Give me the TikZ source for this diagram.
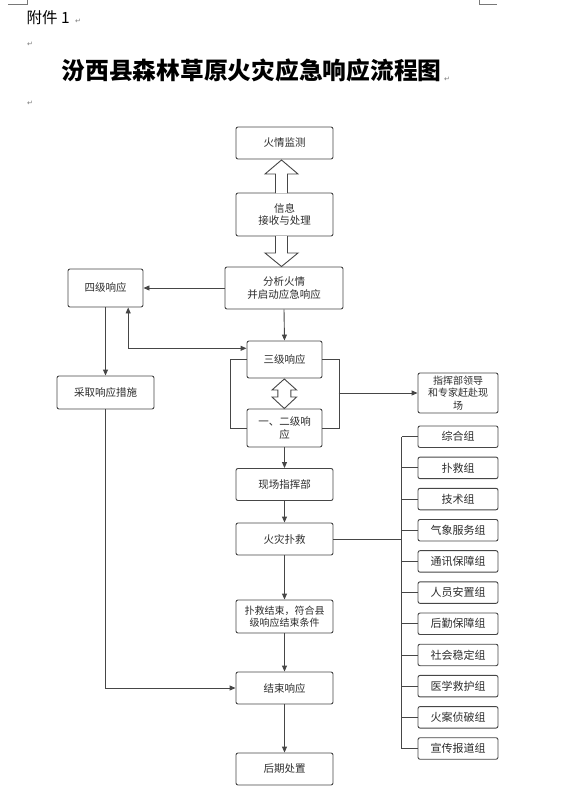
\documentclass[tikz,border=0pt]{standalone}
\usepackage{fontspec}
\setmainfont{Noto Sans CJK SC}
\newfontfamily\cjk{Noto Sans CJK SC}
\newfontfamily\dvs{DejaVu Sans}
\usetikzlibrary{arrows.meta}
\definecolor{lc}{RGB}{70,70,70}
\definecolor{tc}{RGB}{45,45,45}
\definecolor{pm}{RGB}{120,120,120}
\tikzset{
  box/.style={draw=lc, line width=0.9pt, rounded corners=2pt, fill=white, text=tc, align=center, inner sep=1pt, font=\cjk\fontsize{10.5}{12.5}\selectfont},
  grp/.style={box, minimum width=80pt, minimum height=21.5pt, font=\cjk\fontsize{11}{13}\selectfont},
  conn/.style={draw=lc, line width=0.9pt},
  arr/.style={conn, -{Triangle[length=6pt,width=5pt]}},
  hollow/.style={draw=lc, line width=0.9pt, fill=white, line join=miter},
  pmark/.style={text=pm, font=\dvs\fontsize{7}{8}\selectfont, inner sep=0pt}
}
\begin{document}
\begin{tikzpicture}[x=1pt,y=-1pt]
\useasboundingbox (0,0) rectangle (577,792);
% page corner marks
\draw[pm, line width=0.5pt] (8,4) -- (27,4) -- (27,0);
\draw[pm, line width=0.5pt] (479,0) -- (479,4) -- (497,4);
% header
\node[anchor=west, inner sep=0pt, font=\cjk\fontsize{15.5}{17}\selectfont] (att) at (26.5,17.5) {附件 1};
\node[pmark] (pm1) at (78,21.5) {↵};
\node[pmark] (pm2) at (30,44) {↵};
\node[inner sep=0pt, font=\cjk\bfseries\fontsize{23.75}{26}\selectfont] (title) at (251.7,70) {汾西县森林草原火灾应急响应流程图};
\node[pmark] (pm3) at (447,79) {↵};
\node[pmark] (pm4) at (30,103) {↵};

% main boxes
\node[box, minimum width=97pt, minimum height=32pt] (jc) at (284.5,143) {火情监测};
\node[box, minimum width=97pt, minimum height=43pt] (xx) at (284.5,214.5) {信息\\接收与处理};
\node[box, minimum width=118pt, minimum height=42pt] (fx) at (284,288) {分析火情\\并启动应急响应};
\node[box, minimum width=75pt, minimum height=38pt] (sj) at (105.5,288) {四级响应};
\node[box, minimum width=75pt, minimum height=37pt] (sanj) at (284.5,359.5) {三级响应};
\node[box, minimum width=97pt, minimum height=33pt] (cq) at (105.5,392.5) {采取响应措施};
\node[box, minimum width=75pt, minimum height=38pt] (yej) at (284.5,428) {一、二级响\\应};
\node[box, minimum width=80pt, minimum height=40pt, font=\cjk\fontsize{10}{12.3}\selectfont] (zh) at (458,393) {指挥部领导\\和专家赶赴现\\场};
\node[box, minimum width=97pt, minimum height=32pt] (xc) at (284.5,484.5) {现场指挥部};
\node[box, minimum width=97pt, minimum height=32pt] (hz) at (284.5,539) {火灾扑救};
\node[box, minimum width=97pt, minimum height=33pt, font=\cjk\fontsize{10}{12.5}\selectfont] (pj) at (284.5,616.5) {扑救结束，符合县\\级响应结束条件};
\node[box, minimum width=97pt, minimum height=32pt] (js) at (284.5,688) {结束响应};
\node[box, minimum width=97pt, minimum height=32pt] (hq) at (284.5,769) {后期处置};

% groups
\foreach \i/\t in {1/综合组,2/扑救组,3/技术组,4/气象服务组,5/通讯保障组,6/人员安置组,7/后勤保障组,8/社会稳定组,9/医学救护组,10/火案侦破组,11/宣传报道组}{
  \node[grp] (g\i) at (458,{436.7+(\i-1)*31.18}) {\t};
}
\coordinate (bus) at (401.7,0);
\foreach \i in {1,...,11}{
  \draw[conn] (g\i.west) -- (g\i.west -| bus);
}
\draw[conn] (g1.west -| bus) -- (g11.west -| bus);
\draw[conn] (hz.east) -- (hz.east -| bus);

% hollow arrows
\draw[hollow] (275.5,193) -- (275.5,174) -- (265,174) -- (281.5,160) -- (298,174) -- (287.5,174) -- (287.5,193);
\draw[hollow] (275.5,236) -- (275.5,253) -- (265,253) -- (281.5,266.5) -- (298,253) -- (287.5,253) -- (287.5,236);
\draw[hollow] (284.3,379) -- (296.6,390) -- (290.8,390) -- (290.8,397) -- (296.6,397) -- (284.3,408.5) -- (272,397) -- (277.8,397) -- (277.8,390) -- (272,390) -- cycle;

% connectors
\draw[arr] (fx.west) -- (sj.east);
\draw[arr] (sj.south) -- (cq.north);
\coordinate (c1) at (128.2,348.3);
\draw[arr] (c1) -- (c1 -| sanj.west);
\draw[arr] (c1) -- (c1 |- sj.south);
\draw[arr] (fx.south) -- (sanj.north);
\draw[conn] (sanj.west) -- ++(-16.5,0) |- (yej.west);
\draw[conn] (sanj.east) -- ++(16.5,0) |- (yej.east);
\coordinate (c2) at (338.5,393);
\draw[arr] (c2) -- (c2 -| zh.west);
\draw[arr] (yej.south) -- (xc.north);
\draw[arr] (xc.south) -- (hz.north);
\draw[arr] (hz.south) -- (pj.north);
\draw[arr] (pj.south) -- (js.north);
\draw[arr] (js.south) -- (hq.north);
\draw[arr] (cq.south) |- (js.west);
\end{tikzpicture}
\end{document}
